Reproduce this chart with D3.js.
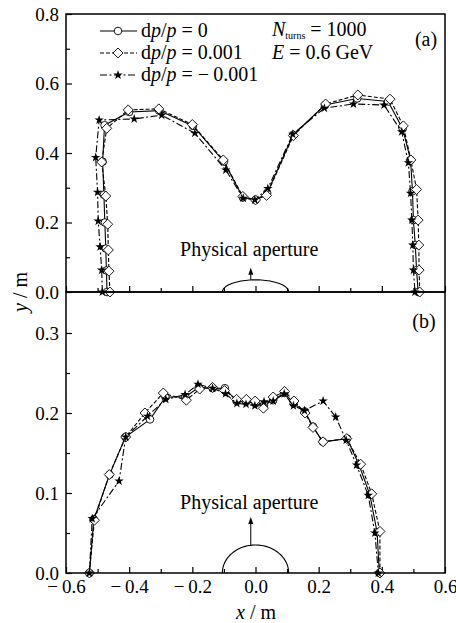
<html>
<head>
<script src="https://d3js.org/d3.v7.min.js"></script>
<style>
body { margin: 0; background: #fff; }
svg text { font-family: "Liberation Serif", "Times New Roman", serif; fill: #000; }
.axis text { font-size: 19px; }
.axis line { stroke: #000; stroke-width: 1.2px; }
.axis path { display: none; }
</style>
</head>
<body>
<div id="plot"></div>
<script>
var width = 456;
var height = 623;

// panel (a): dynamic aperture, E = 0.6 GeV
var aZeroX = [-0.470, -0.472, -0.474, -0.477, -0.480, -0.484, -0.478, -0.400, -0.305, -0.198, -0.100, -0.040, 0.000, 0.037, 0.119, 0.220, 0.322, 0.420, 0.466, 0.491, 0.497, 0.500, 0.506, 0.510, 0.515];
var aZeroY = [0, 0.062, 0.125, 0.200, 0.280, 0.375, 0.480, 0.518, 0.522, 0.478, 0.375, 0.272, 0.265, 0.285, 0.452, 0.538, 0.557, 0.548, 0.470, 0.380, 0.290, 0.207, 0.135, 0.063, 0];
var aPlusX = [-0.461, -0.464, -0.466, -0.468, -0.474, -0.487, -0.471, -0.403, -0.306, -0.200, -0.102, -0.040, 0.000, 0.035, 0.120, 0.222, 0.324, 0.426, 0.468, 0.492, 0.510, 0.515, 0.517, 0.518, 0.520];
var aPlusY = [0, 0.060, 0.121, 0.195, 0.276, 0.374, 0.471, 0.524, 0.527, 0.482, 0.380, 0.275, 0.265, 0.278, 0.450, 0.541, 0.567, 0.555, 0.478, 0.380, 0.295, 0.207, 0.135, 0.063, 0];
var aMinusX = [-0.485, -0.487, -0.492, -0.498, -0.500, -0.506, -0.495, -0.384, -0.297, -0.192, -0.094, -0.039, -0.002, 0.039, 0.118, 0.218, 0.310, 0.407, 0.463, 0.484, 0.491, 0.495, 0.498, 0.500, 0.505];
var aMinusY = [0, 0.063, 0.130, 0.204, 0.287, 0.387, 0.495, 0.498, 0.509, 0.457, 0.351, 0.270, 0.265, 0.298, 0.454, 0.529, 0.541, 0.538, 0.461, 0.372, 0.284, 0.207, 0.135, 0.063, 0];

// panel (b)
var bZeroX = [-0.526, -0.512, -0.462, -0.412, -0.334, -0.285, -0.222, -0.180, -0.136, -0.097, -0.060, -0.030, 0.000, 0.027, 0.056, 0.091, 0.121, 0.156, 0.182, 0.213, 0.290, 0.328, 0.362, 0.385, 0.392];
var bZeroY = [0, 0.067, 0.123, 0.170, 0.192, 0.220, 0.220, 0.232, 0.231, 0.231, 0.215, 0.214, 0.212, 0.210, 0.216, 0.225, 0.212, 0.202, 0.183, 0.164, 0.168, 0.135, 0.098, 0.051, 0];
var bPlusX = [-0.526, -0.510, -0.463, -0.411, -0.350, -0.292, -0.219, -0.177, -0.136, -0.098, -0.060, -0.029, -0.001, 0.025, 0.056, 0.092, 0.122, 0.157, 0.182, 0.214, 0.289, 0.333, 0.368, 0.394, 0.394];
var bPlusY = [0, 0.066, 0.123, 0.170, 0.200, 0.225, 0.216, 0.230, 0.232, 0.228, 0.217, 0.217, 0.215, 0.206, 0.220, 0.227, 0.215, 0.200, 0.182, 0.164, 0.168, 0.136, 0.099, 0.052, 0];
var bMinusX = [-0.526, -0.517, -0.432, -0.411, -0.342, -0.284, -0.223, -0.182, -0.136, -0.095, -0.059, -0.030, -0.002, 0.027, 0.056, 0.091, 0.120, 0.155, 0.214, 0.254, 0.287, 0.320, 0.357, 0.378, 0.389];
var bMinusY = [0, 0.068, 0.115, 0.170, 0.196, 0.217, 0.223, 0.236, 0.231, 0.224, 0.212, 0.211, 0.209, 0.214, 0.215, 0.224, 0.209, 0.203, 0.215, 0.195, 0.166, 0.135, 0.097, 0.050, 0];

var xTicks = [-0.6, -0.4, -0.2, 0, 0.2, 0.4, 0.6];
var aYTicks = [0, 0.2, 0.4, 0.6, 0.8];
var bYTicks = [0, 0.1, 0.2, 0.3];

// physical aperture: half ellipse
var apertureA = 0.105;
var apertureB = 0.035;

var svg = d3.select("#plot").append("svg")
  .attr("width", width).attr("height", height);

var xScale = d3.scaleLinear().domain([-0.6, 0.6]).range([66, 445]);
var yA = d3.scaleLinear().domain([0, 0.8]).range([292, 14]);
var yB = d3.scaleLinear().domain([0, 0.35]).range([573, 293]);

function fmt(d) {
  if (Math.abs(d) < 1e-9) return "0.0";
  return d < 0 ? "\u2212\u2009" + Math.abs(d).toFixed(1) : d.toFixed(1);
}

function minor(lo, hi, step) {
  var out = [];
  for (var i = 0; lo + i * step <= hi + 1e-9; i++) out.push(+(lo + i * step).toFixed(3));
  return out;
}

function drawPanel(yScale, yTicks, yMinor, showX) {
  var bottom = yScale.range()[0];
  // minor ticks
  svg.append("g").attr("class", "axis")
    .attr("transform", "translate(0," + bottom + ")")
    .call(d3.axisBottom(xScale).tickValues(minor(-0.5, 0.5, 0.2)).tickSizeInner(-4).tickSizeOuter(0).tickFormat(""));
  svg.append("g").attr("class", "axis")
    .attr("transform", "translate(0," + bottom + ")")
    .call(d3.axisBottom(xScale).tickValues(xTicks).tickSizeInner(-6).tickSizeOuter(0).tickPadding(7)
      .tickFormat(showX ? fmt : ""));
  svg.append("g").attr("class", "axis")
    .attr("transform", "translate(66,0)")
    .call(d3.axisLeft(yScale).tickValues(yMinor).tickSizeInner(-4).tickSizeOuter(0).tickFormat(""));
  svg.append("g").attr("class", "axis")
    .attr("transform", "translate(66,0)")
    .call(d3.axisLeft(yScale).tickValues(yTicks).tickSizeInner(-6).tickSizeOuter(0).tickPadding(7).tickFormat(fmt));
}

function drawAperture(yScale, labelY) {
  var pts = d3.range(0, 181, 4).map(function (a) {
    var t = a * Math.PI / 180;
    return [apertureA * Math.cos(t), apertureB * Math.sin(t)];
  });
  svg.append("path")
    .attr("d", d3.line().x(function (p) { return xScale(p[0]); }).y(function (p) { return yScale(p[1]); })(pts))
    .attr("fill", "none").attr("stroke", "#000").attr("stroke-width", 1.1);
  var ax = xScale(-0.015);
  var y0 = yScale(apertureB), y1 = yScale(0.07);
  svg.append("line").attr("x1", ax).attr("x2", ax).attr("y1", y0).attr("y2", y1 + 3)
    .attr("stroke", "#000").attr("stroke-width", 1);
  svg.append("path")
    .attr("d", "M" + ax + "," + y1 + "L" + (ax - 2.5) + "," + (y1 + 7) + "L" + (ax + 2.5) + "," + (y1 + 7) + "Z")
    .attr("fill", "#000");
  svg.append("text").attr("x", xScale(-0.02)).attr("y", labelY)
    .attr("text-anchor", "middle").style("font-size", "20px")
    .text("Physical aperture");
}

var series = [
  { dash: null, symbol: "circle" },
  { dash: "4,2", symbol: "diamond" },
  { dash: "7,2.5,2,2.5", symbol: "star" }
];

function marker(sel, kind) {
  if (kind === "circle") {
    sel.append("circle").attr("r", 3.8).attr("fill", "#fff").attr("stroke", "#000").attr("stroke-width", 0.9);
  } else if (kind === "diamond") {
    sel.append("path").attr("d", "M0,-5L5,0L0,5L-5,0Z").attr("fill", "#fff").attr("stroke", "#000").attr("stroke-width", 0.9);
  } else {
    sel.append("path").attr("d", d3.symbol(d3.symbolStar, 28)()).attr("fill", "#000");
  }
}

function drawSeries(xs, ys, yScale, s) {
  var pts = xs.map(function (x, i) { return [x, ys[i]]; });
  svg.append("path")
    .attr("d", d3.line().x(function (p) { return xScale(p[0]); }).y(function (p) { return yScale(p[1]); })(pts))
    .attr("fill", "none").attr("stroke", "#000").attr("stroke-width", 1.1)
    .attr("stroke-dasharray", s.dash);
  svg.append("g").selectAll("g").data(pts).enter().append("g")
    .attr("transform", function (p) { return "translate(" + xScale(p[0]) + "," + yScale(p[1]) + ")"; })
    .call(marker, s.symbol);
}

drawPanel(yA, aYTicks, minor(0.1, 0.7, 0.2), false);
drawPanel(yB, bYTicks, minor(0.05, 0.25, 0.1), true);

drawAperture(yA, 256);
drawAperture(yB, 509);

drawSeries(aZeroX, aZeroY, yA, series[0]);
drawSeries(aPlusX, aPlusY, yA, series[1]);
drawSeries(aMinusX, aMinusY, yA, series[2]);
drawSeries(bZeroX, bZeroY, yB, series[0]);
drawSeries(bPlusX, bPlusY, yB, series[1]);
drawSeries(bMinusX, bMinusY, yB, series[2]);

// frames
svg.append("rect").attr("x", 66).attr("y", 14).attr("width", 379).attr("height", 278)
  .attr("fill", "none").attr("stroke", "#000").attr("stroke-width", 1.5);
svg.append("rect").attr("x", 66).attr("y", 292).attr("width", 379).attr("height", 281)
  .attr("fill", "none").attr("stroke", "#000").attr("stroke-width", 1.5);

// legend
var legendLabels = ["0", "0.001", "\u2212\u20090.001"];
legendLabels.forEach(function (lab, i) {
  var y = 37 + i * 22;
  var g = svg.append("g");
  g.append("line").attr("x1", 100).attr("x2", 137).attr("y1", y - 6).attr("y2", y - 6)
    .attr("stroke", "#000").attr("stroke-width", 1.1).attr("stroke-dasharray", series[i].dash);
  g.append("g").attr("transform", "translate(118," + (y - 6) + ")").call(marker, series[i].symbol);
  var t = g.append("text").attr("x", 141).attr("y", y).style("font-size", "20px");
  t.append("tspan").text("d");
  t.append("tspan").style("font-style", "italic").text("p");
  t.append("tspan").text("/");
  t.append("tspan").style("font-style", "italic").text("p");
  t.append("tspan").text(" = " + lab);
});

var nt = svg.append("text").attr("x", 272).attr("y", 36).style("font-size", "20px");
nt.append("tspan").style("font-style", "italic").text("N");
nt.append("tspan").attr("dy", 3).style("font-size", "10px").text("turns");
nt.append("tspan").attr("dy", -3).text(" = 1000");

var et = svg.append("text").attr("x", 272).attr("y", 59).style("font-size", "20px");
et.append("tspan").style("font-style", "italic").text("E");
et.append("tspan").text(" = 0.6 GeV");

svg.append("text").attr("x", 426).attr("y", 46).attr("text-anchor", "middle").style("font-size", "20px").text("(a)");
svg.append("text").attr("x", 424).attr("y", 328).attr("text-anchor", "middle").style("font-size", "20px").text("(b)");

// axis titles
var xt = svg.append("text").attr("x", 256).attr("y", 619).attr("text-anchor", "middle").style("font-size", "20px");
xt.append("tspan").style("font-style", "italic").text("x");
xt.append("tspan").text(" / m");

var yt = svg.append("text").attr("transform", "translate(27,292) rotate(-90)")
  .attr("text-anchor", "middle").style("font-size", "20px");
yt.append("tspan").style("font-style", "italic").text("y");
yt.append("tspan").text(" / m");
</script>
</body>
</html>
